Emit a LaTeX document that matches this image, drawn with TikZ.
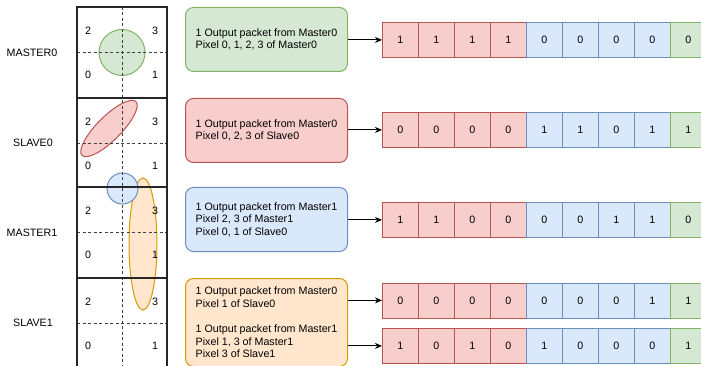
\documentclass[tikz,border=0pt]{standalone}
\usepackage{fontspec}
\setmainfont{Liberation Sans}
\usetikzlibrary{arrows.meta}
\definecolor{gfill}{HTML}{D5E8D4}\definecolor{gline}{HTML}{82B366}
\definecolor{rfill}{HTML}{F8CECC}\definecolor{rline}{HTML}{B85450}
\definecolor{bfill}{HTML}{DAE8FC}\definecolor{bline}{HTML}{6C8EBF}
\definecolor{ofill}{HTML}{FFE6CC}\definecolor{oline}{HTML}{D79B00}
\tikzset{
  infobox/.style={draw, rounded corners=8pt, line width=1pt, align=left,
    minimum width=162pt, minimum height=64pt, inner xsep=10pt, anchor=north west},
  cellbox/.style={draw, line width=0.8pt, minimum width=36pt, minimum height=35pt,
    inner sep=0pt, anchor=north west},
  rcell/.style={cellbox, fill=rfill, draw=rline},
  bcell/.style={cellbox, fill=bfill, draw=bline},
  gcell/.style={cellbox, fill=gfill, draw=gline},
  arr/.style={-{Stealth[length=7pt,width=6pt]}, line width=0.9pt},
  gridline/.style={line width=2pt, black!85},
  dashline/.style={line width=0.8pt, black!75, dash pattern=on 3pt off 2.5pt},
  shapeline/.style={line width=1pt},
  lab/.style={inner sep=0pt}
}
\begin{document}
\begin{tikzpicture}[x=1pt, y=-1pt, font=\fontsize{10.7}{12.6}\selectfont]
\useasboundingbox (0,0) rectangle (701,366);
\clip (0,0) rectangle (701,366);
% shapes in the grid
\draw[shapeline, fill=gfill, draw=gline] (122,52.5) circle [radius=23pt];
\draw[shapeline, fill=rfill, draw=rline, rotate around={45:(109,128.5)}] (109,128.5) ellipse [x radius=38pt, y radius=12pt];
\draw[shapeline, fill=ofill, draw=oline] (143,244) ellipse [x radius=14pt, y radius=66pt];
\draw[shapeline, fill=bfill, draw=bline] (122.5,188.5) circle [radius=15.5pt];
% dashed lines
\draw[dashline] (122,7) -- (122,370);
\foreach \yy in {52.5,143,232.5,323}
  \draw[dashline] (77,\yy) -- (167,\yy);
% thick grid
\draw[gridline] (77,7) rectangle (167,380);
\foreach \yy in {98,187,278}
  \draw[gridline] (77,\yy) -- (167,\yy);
% grid numbers
\foreach \t [count=\k] in {7,98,187,278} {
  \node[lab] (n\k a) at (88,\t+24) {2};
  \node[lab] (n\k b) at (155,\t+24) {3};
  \node[lab] (n\k c) at (88,\t+68) {0};
  \node[lab] (n\k d) at (155,\t+68) {1};
}
% row labels
\node[lab] (l1) at (32,52.5) {MASTER0};
\node[lab] (l2) at (33,143) {SLAVE0};
\node[lab] (l3) at (32,233) {MASTER1};
\node[lab] (l4) at (33,323) {SLAVE1};
% info boxes
\node[infobox, fill=gfill, draw=gline] (b1) at (185,7) {1 Output packet from Master0\\Pixel 0, 1, 2, 3 of Master0};
\node[infobox, fill=rfill, draw=rline] (b2) at (185,98) {1 Output packet from Master0\\Pixel 0, 2, 3 of Slave0};
\node[infobox, fill=bfill, draw=bline] (b3) at (185,187) {1 Output packet from Master1\\Pixel 2, 3 of Master1\\Pixel 0, 1 of Slave0};
\node[infobox, fill=ofill, draw=oline, minimum height=88pt] (b4) at (185,278) {1 Output packet from Master0\\Pixel 1 of Slave0\\[12.4pt]1 Output packet from Master1\\Pixel 1, 3 of Master1\\Pixel 3 of Slave1};
% arrays
\foreach \r/\yy/\a/\b/\c/\d/\e/\f/\g/\h/\j in {1/22/1/1/1/1/0/0/0/0/0,2/112/0/0/0/0/1/1/0/1/1,3/202/1/1/0/0/0/0/1/1/0,4/282.5/0/0/0/0/0/0/0/1/1,5/328/1/0/1/0/1/0/0/0/1} {
  \node[rcell] (a\r c1) at (382,\yy) {\a};
  \node[rcell] (a\r c2) at (418,\yy) {\b};
  \node[rcell] (a\r c3) at (454,\yy) {\c};
  \node[rcell] (a\r c4) at (490,\yy) {\d};
  \node[bcell] (a\r c5) at (526,\yy) {\e};
  \node[bcell] (a\r c6) at (562,\yy) {\f};
  \node[bcell] (a\r c7) at (598,\yy) {\g};
  \node[bcell] (a\r c8) at (634,\yy) {\h};
  \node[gcell] (a\r c9) at (670,\yy) {\j};
}
% arrows
\draw[arr] (b1.east |- a1c1.west) -- (a1c1.west);
\draw[arr] (b2.east |- a2c1.west) -- (a2c1.west);
\draw[arr] (b3.east |- a3c1.west) -- (a3c1.west);
\draw[arr] (b4.east |- a4c1.west) -- (a4c1.west);
\draw[arr] (b4.east |- a5c1.west) -- (a5c1.west);
\end{tikzpicture}
\end{document}
